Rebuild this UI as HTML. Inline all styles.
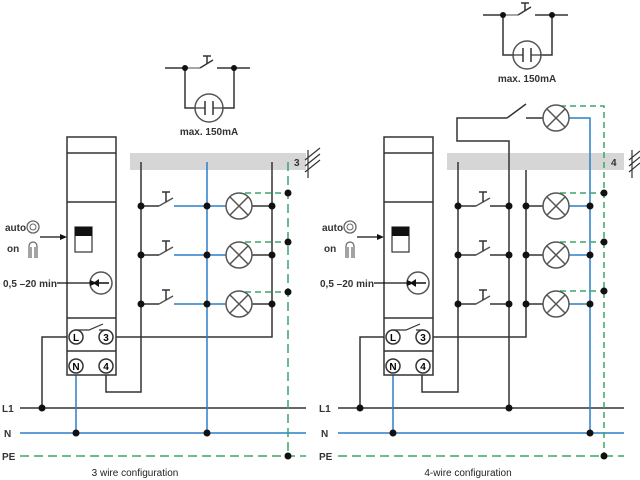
<!DOCTYPE html>
<html><head><meta charset="utf-8"><style>
html,body{margin:0;padding:0;background:#fff;}
svg{display:block;font-family:"Liberation Sans",sans-serif;}
</style></head><body>
<svg width="640" height="480" viewBox="0 0 640 480" xmlns="http://www.w3.org/2000/svg">
<defs>
<g id="lamp"><circle r="13" fill="#fff" stroke="#555" stroke-width="1.5"/><line x1="-9" y1="-9" x2="9" y2="9" stroke="#555" stroke-width="1.5"/><line x1="-9" y1="9" x2="9" y2="-9" stroke="#555" stroke-width="1.5"/></g>
<g id="push"><line x1="0" y1="0" x2="18" y2="0" stroke="#333" stroke-width="1.5"/><line x1="18" y1="0" x2="32" y2="-8" stroke="#555" stroke-width="1.5"/><line x1="25" y1="-4" x2="25" y2="-14" stroke="#333" stroke-width="1.5"/><line x1="21" y1="-14" x2="29" y2="-14" stroke="#333" stroke-width="1.5"/></g>
<g id="term"><circle r="7" fill="#fff" stroke="#333" stroke-width="1.5"/></g>
<g id="dev">
<rect x="0" y="0" width="49" height="238" fill="#fff" stroke="#333" stroke-width="1.5"/>
<line x1="0" y1="16" x2="49" y2="16" stroke="#333" stroke-width="1.5"/>
<line x1="0" y1="65" x2="49" y2="65" stroke="#333" stroke-width="1.5"/>
<line x1="0" y1="181" x2="49" y2="181" stroke="#333" stroke-width="1.5"/>
<line x1="0" y1="214" x2="49" y2="214" stroke="#333" stroke-width="1.5"/>
<rect x="8" y="90" width="17" height="25" fill="#fff" stroke="#333" stroke-width="1.2"/>
<rect x="8" y="90" width="17" height="9" fill="#111"/>
<circle cx="34" cy="146" r="11" fill="#fff" stroke="#555" stroke-width="1.5"/>
<line x1="26" y1="146" x2="42" y2="146" stroke="#111" stroke-width="1.5"/>
<polygon points="26,146 32,142 32,150" fill="#111"/>
<polyline points="9,200 9,193 22,193 36,187" fill="none" stroke="#333" stroke-width="1.2"/>
<polyline points="32,193 39,193 39,200" fill="none" stroke="#333" stroke-width="1.2"/>
<use href="#term" x="9" y="200"/><text x="9" y="204" font-size="10" font-weight="bold" text-anchor="middle">L</text>
<use href="#term" x="39" y="200"/><text x="39" y="204" font-size="10" font-weight="bold" text-anchor="middle">3</text>
<use href="#term" x="9" y="229"/><text x="9" y="233" font-size="10" font-weight="bold" text-anchor="middle">N</text>
<use href="#term" x="39" y="229"/><text x="39" y="233" font-size="10" font-weight="bold" text-anchor="middle">4</text>
</g>
<g id="top">
<line x1="0" y1="0" x2="20" y2="0" stroke="#333" stroke-width="1.5"/>
<line x1="20" y1="0" x2="35" y2="0" stroke="#888" stroke-width="1.5"/>
<line x1="35" y1="0" x2="48" y2="-8" stroke="#333" stroke-width="1.5"/>
<line x1="42" y1="-4" x2="42" y2="-12" stroke="#333" stroke-width="1.5"/><line x1="38" y1="-12" x2="46" y2="-12" stroke="#333" stroke-width="1.5"/>
<line x1="52" y1="0" x2="85" y2="0" stroke="#333" stroke-width="1.5"/>
<polyline points="20,0 20,40 30,40" fill="none" stroke="#333" stroke-width="1.5"/>
<polyline points="69,0 69,40 58,40" fill="none" stroke="#333" stroke-width="1.5"/>
<circle cx="44" cy="40" r="14" fill="#fff" stroke="#555" stroke-width="1.5"/>
<line x1="30" y1="40" x2="40" y2="40" stroke="#333" stroke-width="1.2"/><line x1="48" y1="40" x2="58" y2="40" stroke="#333" stroke-width="1.2"/>
<line x1="40" y1="33" x2="40" y2="47" stroke="#333" stroke-width="1.5"/><line x1="48" y1="33" x2="48" y2="47" stroke="#333" stroke-width="1.5"/>
<circle cx="20" cy="0" r="3" fill="#111"/><circle cx="69" cy="0" r="3" fill="#111"/>
<text x="44" y="67" font-size="10" font-weight="bold" text-anchor="middle" fill="#333">max. 150mA</text>
</g>
<g id="side">
<text x="5" y="231" font-size="10" font-weight="bold" fill="#333">auto</text>
<circle cx="33" cy="227" r="6" fill="none" stroke="#666" stroke-width="1.3"/><circle cx="33" cy="227" r="3" fill="none" stroke="#666" stroke-width="1"/>
<text x="7" y="252" font-size="10" font-weight="bold" fill="#333">on</text>
<path d="M29 258 V246 A4 4 0 0 1 37 246 V258 M31 258 V247 M35 258 V247" fill="none" stroke="#666" stroke-width="1.2"/>
<line x1="40" y1="237" x2="62" y2="237" stroke="#111" stroke-width="1.2"/><polygon points="67,237 60,234 60,240" fill="#111"/>
<text x="3" y="287" font-size="10" font-weight="bold" fill="#333">0,5 –20 min</text>
<line x1="57" y1="283" x2="91" y2="283" stroke="#111" stroke-width="1.2"/><polygon points="97,283 90,280 90,286" fill="#111"/>
</g>
</defs>

<!-- LEFT -->
<use href="#top" x="165" y="68"/>
<rect x="130" y="153" width="176" height="17" fill="#d6d6d6"/>
<text x="294" y="166" font-size="10" font-weight="bold" fill="#333">3</text>
<g stroke="#333" stroke-width="1.2"><line x1="308" y1="150" x2="308" y2="178"/><line x1="305" y1="160" x2="320" y2="148"/><line x1="305" y1="166" x2="320" y2="154"/><line x1="305" y1="172" x2="320" y2="160"/></g>
<g fill="none" stroke-width="1.5">
<line x1="20" y1="408" x2="306" y2="408" stroke="#333"/>
<line x1="20" y1="433" x2="306" y2="433" stroke="#2d7fc8"/>
<line x1="20" y1="456" x2="306" y2="456" stroke="#3aa56a" stroke-dasharray="9,5"/>
<polyline points="69,337 42,337 42,408" stroke="#333"/>
<line x1="76" y1="367" x2="76" y2="433" stroke="#2d7fc8"/>
<polyline points="106,367 106,392 141,392 141,162" stroke="#333"/>
<polyline points="113,337 272,337 272,162" stroke="#333"/>
<line x1="207" y1="162" x2="207" y2="433" stroke="#2d7fc8"/>
<line x1="288" y1="162" x2="288" y2="456" stroke="#3aa56a" stroke-dasharray="9,5"/>
</g>
<use href="#dev" x="67" y="137"/>
<g>
<use href="#push" x="141" y="206"/><use href="#push" x="141" y="255"/><use href="#push" x="141" y="304"/>
<line x1="174" y1="206" x2="239" y2="206" stroke="#2d7fc8" stroke-width="1.5"/>
<line x1="174" y1="255" x2="239" y2="255" stroke="#2d7fc8" stroke-width="1.5"/>
<line x1="174" y1="304" x2="239" y2="304" stroke="#2d7fc8" stroke-width="1.5"/>
<line x1="239" y1="206" x2="272" y2="206" stroke="#333" stroke-width="1.5"/>
<line x1="239" y1="255" x2="272" y2="255" stroke="#333" stroke-width="1.5"/>
<line x1="239" y1="304" x2="272" y2="304" stroke="#333" stroke-width="1.5"/>
<g stroke="#3aa56a" stroke-width="1.5" stroke-dasharray="6,4"><line x1="245" y1="193" x2="288" y2="193"/><line x1="245" y1="242" x2="288" y2="242"/><line x1="245" y1="292" x2="288" y2="292"/></g>
<use href="#lamp" x="239" y="206"/><use href="#lamp" x="239" y="255"/><use href="#lamp" x="239" y="304"/>
</g>
<g fill="#111">
<circle cx="141" cy="206" r="3.5"/><circle cx="141" cy="255" r="3.5"/><circle cx="141" cy="304" r="3.5"/>
<circle cx="207" cy="206" r="3.5"/><circle cx="207" cy="255" r="3.5"/><circle cx="207" cy="304" r="3.5"/>
<circle cx="272" cy="206" r="3.5"/><circle cx="272" cy="255" r="3.5"/><circle cx="272" cy="304" r="3.5"/>
<circle cx="288" cy="193" r="3.5"/><circle cx="288" cy="242" r="3.5"/><circle cx="288" cy="292" r="3.5"/>
<circle cx="42" cy="408" r="3.5"/><circle cx="76" cy="433" r="3.5"/><circle cx="207" cy="433" r="3.5"/><circle cx="288" cy="456" r="3.5"/>
</g>
<g font-size="10" font-weight="bold" fill="#333"><text x="2" y="412">L1</text><text x="4" y="437">N</text><text x="2" y="460">PE</text></g>
<text x="135" y="476" font-size="10" text-anchor="middle" fill="#222">3 wire configuration</text>
<use href="#side"/>

<!-- RIGHT -->
<use href="#top" x="483" y="15"/>
<rect x="447" y="153" width="177" height="17" fill="#d6d6d6"/>
<text x="611" y="166" font-size="10" font-weight="bold" fill="#333">4</text>
<g stroke="#333" stroke-width="1.2"><line x1="632" y1="150" x2="632" y2="178"/><line x1="629" y1="160" x2="640" y2="151"/><line x1="629" y1="166" x2="640" y2="157"/><line x1="629" y1="172" x2="640" y2="163"/></g>
<g fill="none" stroke-width="1.5">
<line x1="338" y1="408" x2="624" y2="408" stroke="#333"/>
<line x1="338" y1="433" x2="624" y2="433" stroke="#2d7fc8"/>
<line x1="338" y1="456" x2="624" y2="456" stroke="#3aa56a" stroke-dasharray="9,5"/>
<polyline points="386,337 360,337 360,408" stroke="#333"/>
<line x1="393" y1="365" x2="393" y2="433" stroke="#2d7fc8"/>
<polyline points="422,365 422,392 458,392 458,162" stroke="#333"/>
<polyline points="429,337 526,337 526,170" stroke="#333"/>
<polyline points="507,118 457,118 457,141 509,141 509,408" stroke="#333"/>
<line x1="507" y1="118" x2="526" y2="104" stroke="#333"/>
<line x1="526" y1="118" x2="556" y2="118" stroke="#333"/>
<polyline points="556,118 590,118 590,433" stroke="#2d7fc8"/>
<polyline points="560,106 604,106 604,456" stroke="#3aa56a" stroke-dasharray="6,4"/>
</g>
<use href="#lamp" x="556" y="118"/>
<use href="#dev" x="384" y="137"/>
<g>
<use href="#push" x="458" y="206"/><use href="#push" x="458" y="255"/><use href="#push" x="458" y="304"/>
<g stroke="#333" stroke-width="1.5">
<line x1="490" y1="206" x2="509" y2="206"/><line x1="490" y1="255" x2="509" y2="255"/><line x1="490" y1="304" x2="509" y2="304"/>
<line x1="526" y1="206" x2="556" y2="206"/><line x1="526" y1="255" x2="556" y2="255"/><line x1="526" y1="304" x2="556" y2="304"/>
</g>
<g stroke="#2d7fc8" stroke-width="1.5"><line x1="556" y1="206" x2="590" y2="206"/><line x1="556" y1="255" x2="590" y2="255"/><line x1="556" y1="304" x2="590" y2="304"/></g>
<g stroke="#3aa56a" stroke-width="1.5" stroke-dasharray="6,4"><line x1="560" y1="193" x2="604" y2="193"/><line x1="560" y1="242" x2="604" y2="242"/><line x1="560" y1="291" x2="604" y2="291"/></g>
<use href="#lamp" x="556" y="206"/><use href="#lamp" x="556" y="255"/><use href="#lamp" x="556" y="304"/>
</g>
<g fill="#111">
<circle cx="458" cy="206" r="3.5"/><circle cx="458" cy="255" r="3.5"/><circle cx="458" cy="304" r="3.5"/>
<circle cx="509" cy="206" r="3.5"/><circle cx="509" cy="255" r="3.5"/><circle cx="509" cy="304" r="3.5"/>
<circle cx="526" cy="206" r="3.5"/><circle cx="526" cy="255" r="3.5"/><circle cx="526" cy="304" r="3.5"/>
<circle cx="590" cy="206" r="3.5"/><circle cx="590" cy="255" r="3.5"/><circle cx="590" cy="304" r="3.5"/>
<circle cx="604" cy="193" r="3.5"/><circle cx="604" cy="242" r="3.5"/><circle cx="604" cy="291" r="3.5"/>
<circle cx="360" cy="408" r="3.5"/><circle cx="509" cy="408" r="3.5"/><circle cx="393" cy="433" r="3.5"/><circle cx="590" cy="433" r="3.5"/><circle cx="604" cy="456" r="3.5"/>
</g>
<g font-size="10" font-weight="bold" fill="#333"><text x="319" y="412">L1</text><text x="321" y="437">N</text><text x="319" y="460">PE</text></g>
<text x="468" y="476" font-size="10" text-anchor="middle" fill="#222">4-wire configuration</text>
<use href="#side" x="317"/>
</svg>
</body></html>
